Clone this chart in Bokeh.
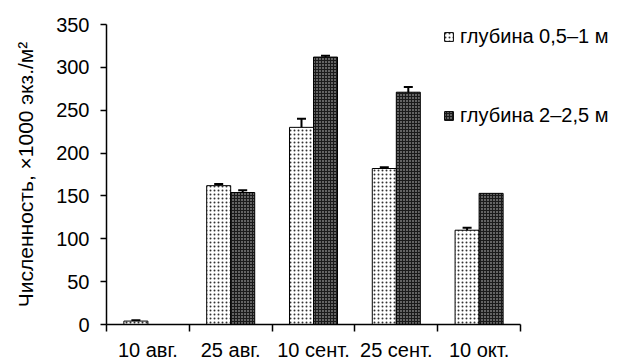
from bokeh.plotting import figure
from bokeh.models import (ColumnDataSource, Whisker, TeeHead, FixedTicker,
                          Legend, LegendItem, Range1d)
from bokeh.embed import file_html
from bokeh.resources import INLINE

dates = ["10 авг.", "25 авг.", "10 сент.", "25 сент.", "10 окт."]
shallow = [4, 162, 230, 182, 110]
shallow_err = [1, 2, 10, 1.5, 3]
deep = [0, 154, 312, 271, 153]
deep_err = [0, 2.5, 1.5, 6, 0]
series_names = ["глубина 0,5–1 м", "глубина 2–2,5 м"]
y_ticks = [0, 50, 100, 150, 200, 250, 300, 350]
y_title = "Численность, ×1000 экз./м²"

FONT = "Liberation Sans"
n = len(dates)
centers = [i + 0.5 for i in range(n)]
off = 0.145
bw = 0.29

# frame spans to the right edge so the legend can sit over it;
# the x axis itself is bounded to the categories
AXIS_PX = 414.0
FRAME_PX = 635 - 106
x_end = n * FRAME_PX / AXIS_PX

p = figure(width=635, height=363, output_backend="svg", toolbar_location=None,
           x_range=Range1d(0, x_end), y_range=Range1d(0, y_ticks[-1]),
           min_border_left=106, min_border_right=0, min_border_top=24,
           min_border_bottom=38)
p.outline_line_color = None
p.grid.visible = False
p.background_fill_color = "white"

src_s = ColumnDataSource(dict(x=[c - off for c in centers], top=shallow))
src_d = ColumnDataSource(dict(x=[c + off for c in centers], top=deep))

r1 = p.vbar(x="x", top="top", width=bw, source=src_s, fill_color="white",
            line_color="black", line_width=1, hatch_pattern="dot",
            hatch_color="#333333", hatch_scale=4, hatch_weight=1)
r2 = p.vbar(x="x", top="top", width=bw, source=src_d, fill_color="#1a1a1a",
            line_color="black", line_width=1, hatch_pattern="dot",
            hatch_color="#d0d0d0", hatch_scale=3, hatch_weight=1)

def add_err(xs, vals, errs):
    xx, lo, hi = [], [], []
    for x, v, e in zip(xs, vals, errs):
        if e > 0:
            xx.append(x); lo.append(v - e); hi.append(v + e)
    s = ColumnDataSource(dict(x=xx, lower=lo, upper=hi))
    w = Whisker(base="x", lower="lower", upper="upper", source=s,
                line_color="black", line_width=2,
                upper_head=TeeHead(size=9, line_width=2, line_color="black"),
                lower_head=TeeHead(size=9, line_width=2, line_color="black"))
    p.add_layout(w)

add_err([c - off for c in centers], shallow, shallow_err)
add_err([c + off for c in centers], deep, deep_err)

# axes
xa = p.xaxis[0]
xa.bounds = (0, n)
xa.ticker = FixedTicker(ticks=centers, minor_ticks=list(range(n + 1)))
xa.major_label_overrides = {c: d for c, d in zip(centers, dates)}
xa.major_tick_out = 0
xa.major_tick_in = 0
xa.minor_tick_out = 7
xa.minor_tick_in = 0
xa.minor_tick_line_color = "black"
xa.minor_tick_line_width = 1.5
xa.axis_line_color = "black"
xa.axis_line_width = 1.5
xa.major_label_text_font = FONT
xa.major_label_text_font_size = "20px"
xa.major_label_text_color = "black"
xa.major_label_standoff = 7

ya = p.yaxis[0]
ya.ticker = FixedTicker(ticks=y_ticks)
ya.minor_tick_line_color = None
ya.major_tick_out = 6
ya.major_tick_in = 0
ya.major_tick_line_width = 1.5
ya.axis_line_width = 1.5
ya.major_label_text_font = FONT
ya.major_label_text_font_size = "20px"
ya.major_label_text_color = "black"
ya.major_label_standoff = 11
ya.axis_label = y_title
ya.axis_label_text_font = FONT
ya.axis_label_text_font_size = "21px"
ya.axis_label_text_font_style = "normal"
ya.axis_label_text_color = "black"
ya.axis_label_standoff = 16

legend = Legend(items=[LegendItem(label=series_names[0], renderers=[r1]),
                       LegendItem(label=series_names[1], renderers=[r2])],
                location=(337, 197), orientation="vertical",
                padding=0, margin=0, spacing=56,
                glyph_width=11, glyph_height=11, label_height=20,
                label_standoff=6, border_line_color=None,
                background_fill_alpha=0,
                label_text_font=FONT, label_text_font_size="20px",
                label_text_color="black")
p.add_layout(legend)

open("out.html", "w").write(file_html(p, INLINE))
